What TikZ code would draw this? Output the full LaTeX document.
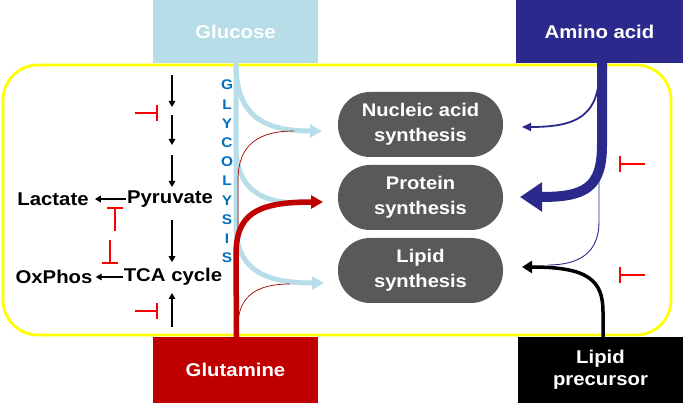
\documentclass[tikz,border=0pt]{standalone}
\usepackage{fontspec}
\setmainfont{Liberation Sans}[FakeStretch=1.1]
\usetikzlibrary{arrows.meta}
\definecolor{glc}{RGB}{183,222,232}
\definecolor{aa}{RGB}{43,42,140}
\definecolor{gln}{RGB}{192,0,0}
\definecolor{pill}{RGB}{89,89,89}
\definecolor{inh}{RGB}{255,0,0}
\definecolor{gly}{RGB}{0,112,192}
\definecolor{thinred}{RGB}{160,0,0}
\definecolor{cellyellow}{RGB}{255,255,0}
\begin{document}
\begin{tikzpicture}[x=1pt,y=-1pt,
  src/.style={rectangle, inner sep=0pt, text=white, font=\fontsize{18.5}{22}\selectfont\bfseries, align=center},
  pillbox/.style={rectangle, rounded corners=32pt, fill=pill, minimum width=165pt, minimum height=65pt, inner sep=0pt, text=white, font=\fontsize{18.3}{25}\selectfont\bfseries, align=center},
  lbl/.style={font=\fontsize{18.5}{20}\selectfont\bfseries, inner sep=1pt},
  glyl/.style={font=\fontsize{14}{16}\selectfont\bfseries, text=gly, inner sep=0pt},
  blk/.style={line width=1.6pt, -{Triangle[length=6pt,width=6.5pt]}},
  inhib/.style={draw=inh, line width=1.8pt, -{Bar[width=16pt,line width=1.8pt]}},
  bluearr/.style={draw=glc, line width=5pt},
  bluetip/.style={-{Triangle[length=12pt,width=13pt]}},
  thinr/.style={draw=thinred, line width=0.7pt},
]
\useasboundingbox (0,0) rectangle (683,403);
% source boxes
\node[src, fill=glc, minimum width=165pt, minimum height=63pt] (glc) at (235.5,31.5) {Glucose};
\node[src, fill=aa, minimum width=167pt, minimum height=63pt] (aa) at (599.5,31.5) {Amino acid};
\node[src, fill=gln, minimum width=165pt, minimum height=66pt] (gln) at (235.5,370) {Glutamine};
\node[src, fill=black, minimum width=165pt, minimum height=66pt] (lip) at (600.5,370) {Lipid\\precursor};
% cell
\draw[cellyellow, line width=2.8pt, rounded corners=35pt] (3,65) rectangle (671,335);
% pills
\node[pillbox] (nuc) at (420.5,124.5) {Nucleic acid\\synthesis};
\node[pillbox] (pro) at (420.5,197.5) {Protein\\synthesis};
\node[pillbox] (lpd) at (420.5,270.5) {Lipid\\synthesis};
% glycolysis letters
\foreach \l [count=\i from 0] in {G,L,Y,C,O,L,Y,S,I,S}
  \node[glyl] (gl\i) at (227,85+\i*19.2) {\l};
% glucose flows
\coordinate (t1) at (322,131);
\coordinate (t2) at (300,203);
\coordinate (t3) at (324,283);
\draw[bluearr, bluetip] ([xshift=0.5pt]glc.south) -- (236,225) .. controls (236,268) and (262,283) .. (t3);
\draw[bluearr, bluetip] (236,68) .. controls (238,115) and (262,131) .. (t1);
\draw[bluearr] (236,150) .. controls (238,190) and (262,203) .. (t2);
% thin red
\draw[thinr] (238,240) -- (238,180) .. controls (238,145) and (258,131) .. (294,131);
\draw[thinr] (238,322) .. controls (240,295) and (258,284) .. (290,284);
% glutamine
\coordinate (t4) at (323,202);
\draw[draw=gln, line width=5.5pt, -{Triangle[length=12pt,width=13pt]}] ([xshift=1pt]gln.north) -- (236,255) .. controls (236,215) and (255,202) .. (t4);
% amino acid
\coordinate (t5) at (520,197);
\coordinate (t6) at (522,127);
\coordinate (t7) at (548,265);
\draw[draw=aa, line width=10pt, -{Triangle[length=22pt,width=28pt]}] ([xshift=2.5pt]aa.south) -- (602,145) .. controls (602,188) and (585,197) .. (t5);
\draw[draw=aa, line width=1.8pt, -{Triangle[length=9pt,width=8pt]}] (598,88) .. controls (592,118) and (572,127) .. (t6);
\draw[draw=aa, line width=0.9pt] (599,160) -- (599,222) .. controls (599,252) and (580,265) .. (t7);
% lipid precursor
\coordinate (t8) at (522,267);
\draw[draw=black, line width=3.5pt, -{Triangle[length=10pt,width=12pt]}] ([xshift=2.5pt]lip.north) -- (603,312) .. controls (603,280) and (588,267) .. (t8);
% right inhibitions
\draw[inhib] (645,164) -- (619,164);
\draw[inhib] (645,275) -- (619,275);
% left pathway
\node[lbl] (pyr) at (170,199) {Pyruvate};
\node[lbl] (lac) at (53,199) {Lactate};
\node[lbl] (tca) at (173,277) {TCA cycle};
\node[lbl] (oxp) at (54,277) {OxPhos};
\draw[blk] (pyr.west) -- ([xshift=5pt]lac.east);
\draw[blk] (tca.west) -- ([xshift=2pt]oxp.east);
\coordinate (v1a) at (172,75);  \coordinate (v1b) at (172,107);
\coordinate (v2a) at (172,115); \coordinate (v2b) at (172,145);
\coordinate (v3a) at (172,155); \coordinate (v3b) at (172,187);
\coordinate (v5a) at (172,327); \coordinate (v5b) at (172,293);
\draw[blk] (v1a) -- (v1b);
\draw[blk] (v2a) -- (v2b);
\draw[blk] (v3a) -- (v3b);
\draw[blk] ([yshift=-12pt]pyr.south -| v1a) -- ([yshift=5pt]tca.north -| v1a);
\draw[blk] (v5a) -- (v5b);
% left inhibitions
\draw[inhib] (135,113) -- (158,113);
\draw[inhib] (135,311) -- (158,311);
\draw[inhib] (115,231) -- (115,207);
\draw[inhib] (110,240) -- (110,264);
\end{tikzpicture}
\end{document}
